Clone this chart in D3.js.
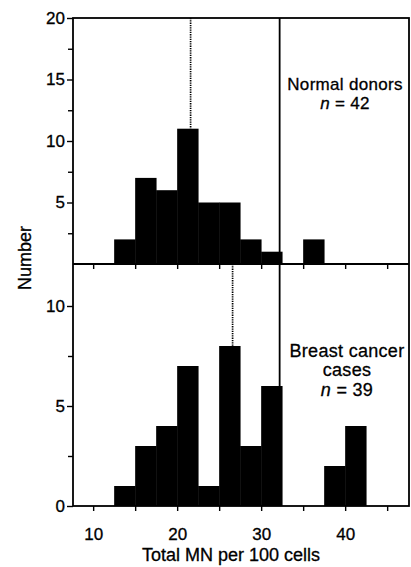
<!DOCTYPE html>
<meta charset="utf-8">
<script src="https://d3js.org/d3.v7.min.js"></script>
<style>
    body { margin: 0; background: #fff; }
    svg text { font-family: "Liberation Sans", Arial, Helvetica, sans-serif; fill: #000; stroke: #000; stroke-width: 0.3; }
    .axis path { display: none; }
    .axis line { stroke: #000; stroke-width: 1.4; }
</style>
<svg id="chart"></svg>
<script>
    // histogram bins (lower edge of each bin, width 2.5)
    var binStarts = [12.5, 15, 17.5, 20, 22.5, 25, 27.5, 30, 32.5, 35, 37.5, 40];
    var binWidth = 2.5;
    var donorCounts = [2, 7, 6, 11, 5, 5, 2, 1, 0, 2, 0, 0];
    var cancerCounts = [1, 3, 4, 7, 1, 8, 3, 6, 0, 0, 2, 4];

    var donorMean = 21.6;
    var cancerMean = 26.6;
    var cutoff = 32.2;

    var xTicks = [10, 15, 20, 25, 30, 35, 40, 45];
    var xLabels = [10, 20, 30, 40];
    var topMajor = [5, 10, 15, 20];
    var topMinor = [2.5, 7.5, 12.5, 17.5];
    var botMajor = [0, 5, 10];
    var botMinor = [2.5, 7.5];

    var donorText = ["Normal donors", "n = 42"];
    var cancerText = ["Breast cancer", "cases", "n = 39"];

    var screen = {width: 411, height: 567};
    var svg = d3.select("#chart")
        .attr("width", screen.width)
        .attr("height", screen.height);

    var x = d3.scaleLinear().domain([7.6, 47.6]).range([73, 409]);
    var yTop = d3.scaleLinear().domain([0, 20]).range([264, 18]);
    var yBot = d3.scaleLinear().domain([0, 12.1]).range([506, 264]);

    var drawBars = function(counts, y, cls)
    {
        svg.append("g").selectAll("rect." + cls)
            .data(binStarts.map(function(b, i) { return {x0: b, n: counts[i]}; }))
            .enter()
            .append("rect")
            .attr("class", cls)
            .attr("x", function(d) { return x(d.x0); })
            .attr("width", function(d) { return x(d.x0 + binWidth) - x(d.x0) + 0.4; })
            .attr("y", function(d) { return y(d.n); })
            .attr("height", function(d) { return y(0) - y(d.n); })
            .attr("fill", "#000");
    }
    drawBars(donorCounts, yTop, "donor");
    drawBars(cancerCounts, yBot, "cancer");

    // y axes
    var yAxis = function(y, major, minor)
    {
        svg.append("g").attr("class", "axis")
            .attr("transform", "translate(73,0)")
            .call(d3.axisLeft(y).tickValues(major).tickSize(6).tickPadding(2))
            .selectAll("text").style("font-size", "17px");
        svg.append("g").attr("class", "axis")
            .attr("transform", "translate(73,0)")
            .call(d3.axisLeft(y).tickValues(minor).tickSize(5).tickFormat(""));
    }
    yAxis(yTop, topMajor, topMinor);
    yAxis(yBot, botMajor, botMinor);

    // x axis at the bottom, outward
    svg.append("g").attr("class", "axis")
        .attr("transform", "translate(0,506)")
        .call(d3.axisBottom(x).tickValues(xTicks).tickSize(5).tickPadding(17)
            .tickFormat(function(d) { return xLabels.indexOf(d) >= 0 ? d : ""; }))
        .selectAll("text").style("font-size", "17px");

    // ticks under the middle line
    svg.append("g").attr("class", "axis")
        .attr("transform", "translate(0,264)")
        .call(d3.axisBottom(x).tickValues(xTicks).tickSize(5).tickFormat(""));

    // frame and divider
    svg.append("rect")
        .attr("x", x.range()[0]).attr("y", yTop.range()[1])
        .attr("width", x.range()[1] - x.range()[0])
        .attr("height", yBot.range()[0] - yTop.range()[1])
        .attr("fill", "none").attr("stroke", "#000").attr("stroke-width", 1.8);
    svg.append("line")
        .attr("x1", x.range()[0]).attr("x2", x.range()[1])
        .attr("y1", yTop(0)).attr("y2", yTop(0))
        .attr("stroke", "#000").attr("stroke-width", 1.8);

    // cut-off line
    svg.append("line")
        .attr("x1", x(cutoff)).attr("x2", x(cutoff))
        .attr("y1", yTop(20)).attr("y2", yBot(0))
        .attr("stroke", "#000").attr("stroke-width", 1.8);

    // means (dotted)
    svg.append("line")
        .attr("x1", x(donorMean)).attr("x2", x(donorMean))
        .attr("y1", yTop(20)).attr("y2", yTop(11))
        .attr("stroke", "#000").attr("stroke-width", 1.7)
        .attr("stroke-dasharray", "1.3,1");
    svg.append("line")
        .attr("x1", x(cancerMean)).attr("x2", x(cancerMean))
        .attr("y1", yBot(12.1)).attr("y2", yBot(8))
        .attr("stroke", "#000").attr("stroke-width", 1.7)
        .attr("stroke-dasharray", "1.3,1");

    // annotations
    var writeLines = function(lines, cx, baselines, size)
    {
        lines.forEach(function(t, i)
        {
            var txt = svg.append("text")
                .attr("x", cx).attr("y", baselines[i])
                .attr("text-anchor", "middle")
                .style("font-size", size + "px")
                .style("letter-spacing", "0.3px");
            if (t.indexOf("n = ") == 0)
            {
                txt.append("tspan").style("font-style", "italic").text("n");
                txt.append("tspan").text(t.slice(1));
            }
            else
            {
                txt.text(t);
            }
        });
    }
    writeLines(donorText, 345, [89.5, 109], 17);
    writeLines(cancerText, 347, [357, 376, 396], 18);

    // axis titles
    svg.append("text")
        .attr("x", 231).attr("y", 561)
        .attr("text-anchor", "middle")
        .style("font-size", "18px")
        .text("Total MN per 100 cells");
    svg.append("text")
        .attr("transform", "translate(31,258) rotate(-90)")
        .attr("text-anchor", "middle")
        .style("font-size", "18px")
        .text("Number");
</script>
